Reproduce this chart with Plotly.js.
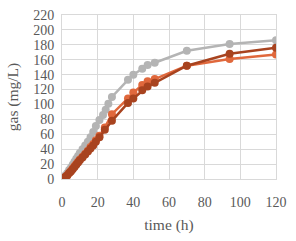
<!DOCTYPE html>
<html><head><meta charset="utf-8">
<script src="https://cdn.plot.ly/plotly-3.0.1.min.js"></script>
<style>html,body{margin:0;padding:0;background:#fff;}#c{width:296px;height:241px;}</style>
</head><body><div id="c"></div>
<script>
var timeGray = [0, 1, 2, 3, 4, 5, 6, 7, 8, 9, 10, 11.5, 13, 14.5, 16, 17.5, 19, 21, 23, 24.5, 26, 28, 37, 40, 45, 48, 52, 70, 94, 120];
var gasGray  = [0, 2, 5, 8, 12, 15, 19, 23, 27, 31, 35, 40, 45, 50, 56, 63, 71, 79, 86, 93, 101, 110, 133, 140, 148, 153, 156, 172, 181, 186];
var timeRed = [0, 1, 2, 3, 4, 5, 6, 7, 8, 9, 10, 11.5, 13, 14.5, 16, 17.5, 19, 21, 24, 28, 37, 40, 45, 48, 52, 70, 94, 120];
var gasDark  = [0, 1, 3, 5, 8, 10, 13, 16, 19, 22, 25, 29, 33, 37, 41, 45, 50, 56, 66, 78, 102, 108, 119, 124, 129, 152, 168, 176];
var gasLight = [0, 1, 3, 5, 8, 11, 14, 17, 20, 23, 26, 30, 34, 38, 43, 47, 52, 58, 69, 87, 108, 116, 126, 131, 134, 152, 161, 167];

var traces = [
  {x: timeGray, y: gasGray, mode: 'lines+markers', line: {color: '#b4b4b4', width: 2.5}, marker: {color: '#b4b4b4', size: 8}},
  {x: timeRed, y: gasLight, mode: 'lines+markers', line: {color: '#e0683c', width: 2.5}, marker: {color: '#e0683c', size: 8}},
  {x: timeRed, y: gasDark, mode: 'lines+markers', line: {color: '#a8431f', width: 2.5}, marker: {color: '#a8431f', size: 8}}
];
var fnt = {family: 'Liberation Serif, serif', size: 14, color: '#595959'};
var tfnt = {family: 'Liberation Serif, serif', size: 15.5, color: '#595959'};
var layout = {
  width: 296, height: 241, showlegend: false,
  margin: {l: 62, r: 20, t: 15, b: 62},
  paper_bgcolor: '#fff', plot_bgcolor: '#fff',
  font: fnt,
  xaxis: {range: [0, 120], tickvals: [0,20,40,60,80,100,120], showgrid: true, gridcolor: '#d9d9d9', gridwidth: 1,
          zeroline: false, showline: true, linecolor: '#d9d9d9', mirror: true, ticks: '', ticklen: 0,
          ticklabelstandoff: 10,
          tickfont: fnt, title: {text: 'time (h)', font: tfnt, standoff: 10}},
  yaxis: {range: [0, 220], dtick: 20, showgrid: true, gridcolor: '#d9d9d9', gridwidth: 1,
          zeroline: false, showline: true, linecolor: '#d9d9d9', mirror: true, ticks: '',
          ticklabelstandoff: 4,
          tickfont: fnt, title: {text: 'gas (mg/L)', font: tfnt, standoff: 10}}
};
Plotly.newPlot('c', traces, layout, {staticPlot: true, displayModeBar: false});
</script></body></html>
